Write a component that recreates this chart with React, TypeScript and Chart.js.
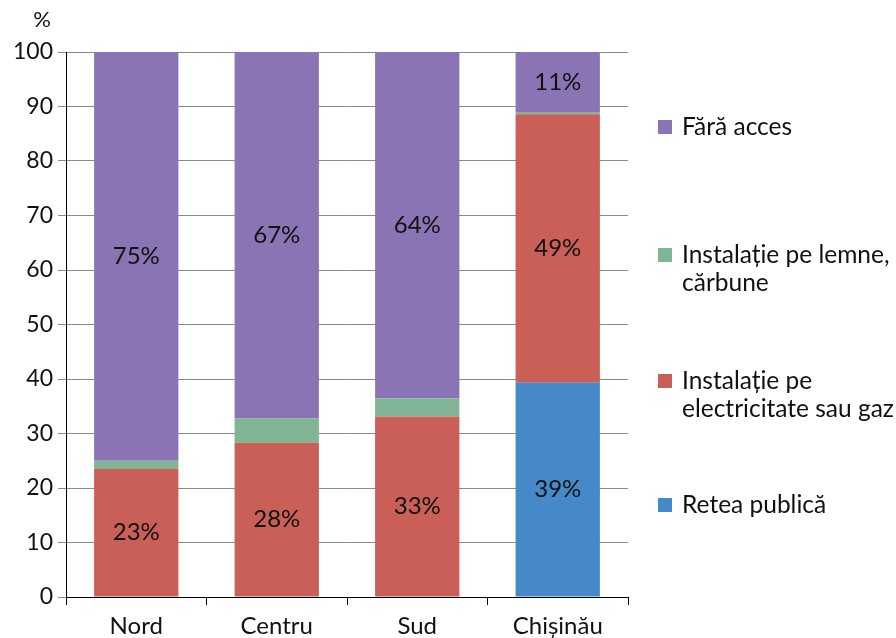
import React, { useEffect, useRef } from "react";
import { Chart, registerables } from "chart.js";

Chart.register(...registerables);

const categories = ["Nord", "Centru", "Sud", "Chișinău"];
const reteaPublica = [0, 0, 0, 39.3];
const electricitateGaz = [23.5, 28.3, 33.1, 49.3];
const lemneCarbune = [1.5, 4.5, 3.3, 0.4];
const faraAcces = [75, 67.2, 63.6, 11.0];

const labelsRetea = ["", "", "", "39%"];
const labelsElectric = ["23%", "28%", "33%", "49%"];
const labelsLemne = ["", "", "", ""];
const labelsFara = ["75%", "67%", "64%", "11%"];

const yTicks = [0, 10, 20, 30, 40, 50, 60, 70, 80, 90, 100];

const legendItems = [
  { lines: ["Fără acces"], color: "#8B74B3", y: 127 },
  { lines: ["Instalație pe lemne,", "cărbune"], color: "#7FB595", y: 255 },
  { lines: ["Instalație pe", "electricitate sau gaz"], color: "#CA5F58", y: 381 },
  { lines: ["Retea publică"], color: "#4589C9", y: 505 },
];

const FONT = "Lato, 'Open Sans', sans-serif";

export default function App() {
  const ref = useRef<HTMLCanvasElement | null>(null);

  useEffect(() => {
    document.body.style.margin = "0";
    const canvas = ref.current!;
    const labelSets = [labelsRetea, labelsElectric, labelsLemne, labelsFara];

    const overlay = {
      id: "overlay",
      afterDatasetsDraw(chart: any) {
        const ctx = chart.ctx;
        ctx.save();
        ctx.font = `24px ${FONT}`;
        ctx.fillStyle = "#111";
        ctx.textAlign = "center";
        ctx.textBaseline = "middle";
        chart.data.datasets.forEach((ds: any, di: number) => {
          const meta = chart.getDatasetMeta(di);
          meta.data.forEach((bar: any, i: number) => {
            const t = labelSets[di][i];
            if (!t) return;
            const yMid = (bar.y + bar.base) / 2;
            ctx.fillText(t, bar.x, yMid);
          });
        });
        ctx.restore();
      },
      afterDraw(chart: any) {
        const ctx = chart.ctx;
        ctx.save();
        ctx.fillStyle = "#111";
        ctx.textBaseline = "middle";
        ctx.textAlign = "center";
        ctx.font = `22px ${FONT}`;
        ctx.fillText("%", 42, 20);
        ctx.font = `24.5px ${FONT}`;
        ctx.textAlign = "left";
        legendItems.forEach((it) => {
          ctx.fillStyle = it.color;
          ctx.fillRect(658, it.y - 7, 14, 14);
          ctx.fillStyle = "#111";
          it.lines.forEach((ln, k) => {
            ctx.fillText(ln, 682, it.y + k * 28);
          });
        });
        ctx.restore();
      },
    };

    const mk = (label: string, data: number[], color: string) => ({
      label,
      data,
      backgroundColor: color,
      borderWidth: 0,
      barPercentage: 0.6,
      categoryPercentage: 1,
    });

    const chart = new Chart(canvas, {
      type: "bar",
      data: {
        labels: categories,
        datasets: [
          mk("Retea publică", reteaPublica, "#4589C9"),
          mk("Instalație pe electricitate sau gaz", electricitateGaz, "#CA5F58"),
          mk("Instalație pe lemne, cărbune", lemneCarbune, "#7FB595"),
          mk("Fără acces", faraAcces, "#8B74B3"),
        ],
      },
      options: {
        animation: false,
        responsive: false,
        maintainAspectRatio: false,
        layout: { padding: { top: 52, right: 268, left: 0, bottom: 0 } },
        plugins: { legend: { display: false }, tooltip: { enabled: false } },
        scales: {
          x: {
            stacked: true,
            offset: true,
            grid: {
              display: true,
              offset: true,
              drawOnChartArea: false,
              drawTicks: true,
              tickLength: 8,
              color: "#000",
            },
            border: { display: true, color: "#000", width: 1 },
            ticks: { font: { family: FONT, size: 24 }, color: "#111", padding: 7 },
            afterFit: (s: any) => {
              s.height = 41;
            },
          },
          y: {
            stacked: true,
            min: 0,
            max: 100,
            afterBuildTicks: (s: any) => {
              s.ticks = yTicks.map((v) => ({ value: v }));
            },
            grid: { color: "#8a8a8a", lineWidth: 1, tickLength: 8, drawTicks: true },
            border: { display: true, color: "#000", width: 1 },
            ticks: { font: { family: FONT, size: 23 }, color: "#111", padding: 5 },
            afterFit: (s: any) => {
              s.width = 66;
            },
          },
        },
      },
      plugins: [overlay],
    });
    return () => chart.destroy();
  }, []);

  return (
    <div style={{ width: 896, height: 638 }}>
      <canvas ref={ref} width={896} height={638} style={{ width: 896, height: 638, display: "block" }} />
    </div>
  );
}
